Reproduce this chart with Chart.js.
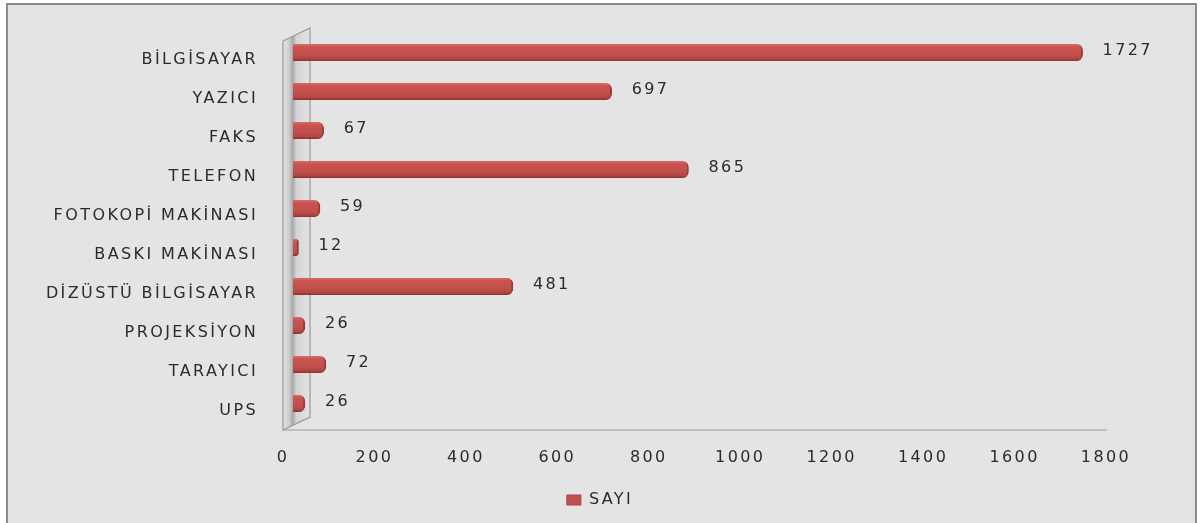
<!DOCTYPE html>
<html>
<head>
<meta charset="utf-8">
<script src="https://cdn.jsdelivr.net/npm/chart.js@4"></script>
<style>
  html, body { margin: 0; padding: 0; background: #ffffff; }
  #wrap { position: absolute; left: 0; top: 0; width: 1200px; height: 523px; }
</style>
</head>
<body>
<div id="wrap"><canvas id="c"></canvas></div>
<script>
const categories = ['BİLGİSAYAR', 'YAZICI', 'FAKS', 'TELEFON', 'FOTOKOPİ MAKİNASI', 'BASKI MAKİNASI', 'DİZÜSTÜ BİLGİSAYAR', 'PROJEKSİYON', 'TARAYICI', 'UPS'];
const sayiValues = [1727, 697, 67, 865, 59, 12, 481, 26, 72, 26];
const seriesName = 'SAYI';
const xMin = 0, xMax = 1800, xStep = 200;

const FONT = { family: "'DejaVu Sans', 'Open Sans', sans-serif", size: 16 };
const TEXT = '#2b2b2b';
const SPACING = '2.4px';
const BAR_COLOR = '#c0504d';

const spacingPlugin = {
  id: 'spacing',
  beforeInit(chart) { chart.ctx.letterSpacing = SPACING; },
  beforeLayout(chart) { chart.ctx.letterSpacing = SPACING; },
  beforeDraw(chart) {
    const ctx = chart.ctx;
    ctx.letterSpacing = SPACING;
    ctx.save();
    ctx.fillStyle = '#ffffff';
    ctx.fillRect(0, 0, chart.width, chart.height);
    ctx.fillStyle = '#e4e4e4';
    ctx.fillRect(8, 5, 1187, chart.height);
    ctx.strokeStyle = '#8c8c8c';
    ctx.lineWidth = 2;
    ctx.strokeRect(7, 4, 1189, chart.height + 10);
    ctx.restore();
  }
};

const wallPlugin = {
  id: 'wall',
  beforeDatasetsDraw(chart) {
    const ctx = chart.ctx;
    const a = chart.chartArea;
    const xs = chart.scales.x;
    const fx = xs.getPixelForValue(0) - 10;
    const bx = fx + 27;
    const ftop = a.top + 8, btop = a.top - 5;
    const fbot = a.bottom + 7, bbot = a.bottom - 6;
    ctx.save();
    const g = ctx.createLinearGradient(fx, 0, bx, 0);
    g.addColorStop(0, '#e4e4e4');
    g.addColorStop(0.22, '#cfcfcf');
    g.addColorStop(0.36, '#a8a8a8');
    g.addColorStop(0.5, '#d4d4d4');
    g.addColorStop(1, '#e4e4e4');
    ctx.fillStyle = g;
    ctx.beginPath();
    ctx.moveTo(fx, ftop);
    ctx.lineTo(bx, btop);
    ctx.lineTo(bx, bbot);
    ctx.lineTo(fx, fbot);
    ctx.closePath();
    ctx.fill();
    ctx.strokeStyle = '#999999';
    ctx.lineWidth = 1.2;
    ctx.stroke();
    ctx.beginPath();
    ctx.moveTo(fx, fbot);
    ctx.lineTo(xs.getPixelForValue(xMax) - 9, fbot);
    ctx.stroke();
    ctx.restore();
  },
  afterDatasetsDraw(chart) {
    const ctx = chart.ctx;
    const meta = chart.getDatasetMeta(0);
    ctx.save();
    ctx.letterSpacing = SPACING;
    ctx.font = `${FONT.size}px ${FONT.family}`;
    ctx.fillStyle = TEXT;
    ctx.textAlign = 'left';
    ctx.textBaseline = 'middle';
    meta.data.forEach((el, i) => {
      ctx.fillText(String(sayiValues[i]), el.x + 20, el.y - 2);
    });
    ctx.restore();
  }
};

function barFill(context) {
  if (context.type !== 'data') return BAR_COLOR;
  const chart = context.chart;
  const y = chart.scales.y.getPixelForValue(context.dataIndex);
  if (!isFinite(y)) return BAR_COLOR;
  const g = chart.ctx.createLinearGradient(0, y - 8.5, 0, y + 8.5);
  g.addColorStop(0, '#d96b68');
  g.addColorStop(0.18, '#c9534f');
  g.addColorStop(0.6, '#c0504d');
  g.addColorStop(0.85, '#b24643');
  g.addColorStop(1, '#8c302e');
  return g;
}

new Chart(document.getElementById('c'), {
  type: 'bar',
  data: {
    labels: categories,
    datasets: [{
      label: seriesName,
      data: sayiValues,
      backgroundColor: barFill,
      borderColor: '#993a38',
      borderWidth: { top: 0, bottom: 0, left: 0, right: 2 },
      borderRadius: { topLeft: 0, bottomLeft: 0, topRight: 6, bottomRight: 6 },
      borderSkipped: 'start',
      barThickness: 17,
      yAxisID: 'y'
    }]
  },
  plugins: [spacingPlugin, wallPlugin],
  options: {
    indexAxis: 'y',
    responsive: true,
    maintainAspectRatio: false,
    animation: false,
    layout: { padding: { top: 33, right: 0, bottom: 5, left: 0 } },
    scales: {
      x: {
        min: xMin, max: xMax,
        ticks: { stepSize: xStep, labelOffset: -10, padding: 25, font: FONT, color: TEXT, maxRotation: 0,
                 callback: v => String(v) },
        grid: { display: false, drawTicks: false },
        border: { display: false },
        afterFit(s) { s.height = 59; s.paddingLeft = 0; s.paddingRight = 0; }
      },
      y: {
        ticks: { padding: 35, labelOffset: 7, font: FONT, color: TEXT, autoSkip: false },
        grid: { display: false, drawTicks: false },
        border: { display: false },
        afterFit(s) { s.width = 293; s.paddingTop = 0; s.paddingBottom = 0; }
      },
      yRight: {
        type: 'category',
        position: 'right',
        labels: categories,
        ticks: { display: false },
        grid: { display: false, drawTicks: false },
        border: { display: false },
        afterFit(s) { s.width = 84; s.paddingTop = 0; s.paddingBottom = 0; }
      }
    },
    plugins: {
      legend: {
        position: 'bottom',
        labels: {
          font: FONT, color: TEXT, boxWidth: 14, boxHeight: 10, padding: 10,
          generateLabels: chart => chart.data.datasets.map((ds, i) => ({
            text: ds.label, fillStyle: BAR_COLOR, strokeStyle: '#a84341', lineWidth: 1,
            fontColor: TEXT, hidden: false, datasetIndex: i
          }))
        }
      },
      tooltip: { enabled: false },
      title: { display: false }
    }
  }
});
</script>
</body>
</html>
